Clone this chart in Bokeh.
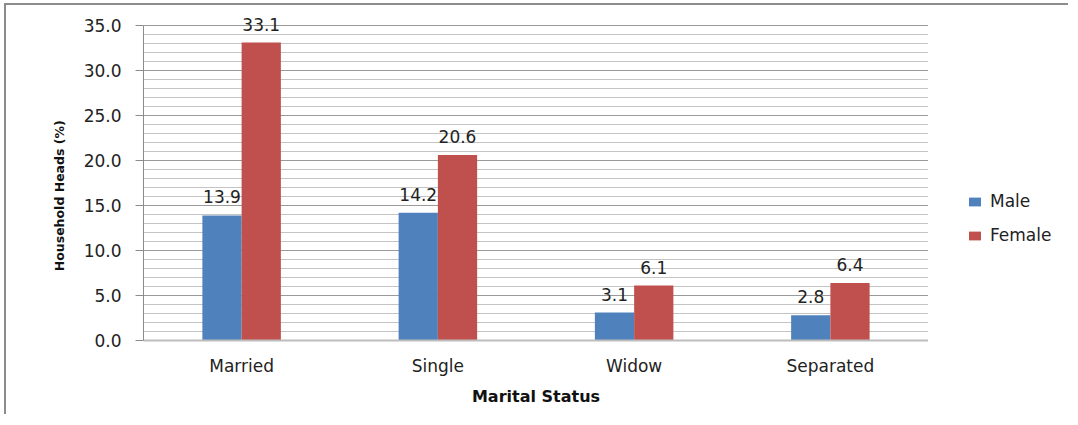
from bokeh.plotting import figure
from bokeh.layouts import row
from bokeh.models import (ColumnDataSource, FactorRange, LabelSet, Legend, LegendItem,
                          SingleIntervalTicker, PrintfTickFormatter, Range1d)
from bokeh.core.properties import value
from bokeh.transform import dodge
from bokeh.embed import file_html
from bokeh.resources import INLINE

categories = ["Married", "Single", "Widow", "Separated"]
male = [13.9, 14.2, 3.1, 2.8]
female = [33.1, 20.6, 6.1, 6.4]
series = ["Male", "Female"]
colors = ["#4F81BD", "#C0504D"]

src = ColumnDataSource(dict(
    cat=categories, male=male, female=female,
    male_lbl=["%.1f" % v for v in male],
    female_lbl=["%.1f" % v for v in female],
))

FONT = "DejaVu Sans"

p = figure(x_range=FactorRange(*categories, range_padding=0.0), y_range=Range1d(0, 37),
           width=922, height=409, output_backend="svg", toolbar_location=None,
           min_border_left=137, min_border_right=0, min_border_top=2, min_border_bottom=74)
p.outline_line_color = None
p.background_fill_color = "white"
p.border_fill_color = "white"

bw = 0.2
p.vbar(x=dodge("cat", -bw / 2, range=p.x_range), top="male", width=bw, source=src,
       fill_color=colors[0], line_color=None)
p.vbar(x=dodge("cat", bw / 2, range=p.x_range), top="female", width=bw, source=src,
       fill_color=colors[1], line_color=None)

for col, off in (("male", -bw / 2), ("female", bw / 2)):
    p.add_layout(LabelSet(x=dodge("cat", off, range=p.x_range), y=col, text=col + "_lbl",
                          source=src, text_align="center", text_baseline="bottom",
                          y_offset=12, text_font=value(FONT), text_font_size="17px",
                          text_color="#222222"))

# axes
p.yaxis.ticker = SingleIntervalTicker(interval=5, num_minor_ticks=5)
p.yaxis.bounds = (0, 35)
p.yaxis.formatter = PrintfTickFormatter(format="%.1f")
p.yaxis.axis_label = "Household Heads (%)" + "\u00a0" * 10
p.yaxis.axis_label_text_font = FONT
p.yaxis.axis_label_text_font_style = "bold"
p.yaxis.axis_label_text_font_size = "12.5px"
p.yaxis.axis_label_text_color = "#111111"
p.yaxis.major_label_text_font = FONT
p.yaxis.major_label_text_font_size = "17px"
p.yaxis.major_label_text_color = "#222222"
p.yaxis.axis_line_color = "#8c8c8c"
p.yaxis.major_tick_line_color = "#8c8c8c"
p.yaxis.major_tick_out = 8
p.yaxis.major_tick_in = 0
p.yaxis.minor_tick_line_color = None
p.yaxis.major_label_standoff = 14
p.yaxis.axis_label_standoff = 14

p.xaxis.axis_label = "Marital Status"
p.xaxis.axis_label_text_font = FONT
p.xaxis.axis_label_text_font_style = "bold"
p.xaxis.axis_label_text_font_size = "16px"
p.xaxis.axis_label_text_color = "#111111"
p.xaxis.major_label_text_font = FONT
p.xaxis.major_label_text_font_size = "17px"
p.xaxis.major_label_text_color = "#222222"
p.xaxis.axis_line_color = "#bdbdbd"
p.xaxis.axis_line_width = 2
p.xaxis.major_tick_line_color = None
p.xaxis.minor_tick_line_color = None
p.xaxis.major_label_standoff = 9
p.xaxis.axis_label_standoff = 8

p.xgrid.grid_line_color = None
p.ygrid.bounds = (0, 35)
p.ygrid.grid_line_color = "#9a9a9a"
p.ygrid.minor_grid_line_color = "#c4c4c4"

# legend panel (separate small figure holding only the legend swatches)
lf = figure(width=140, height=409, output_backend="svg", toolbar_location=None,
            x_axis_type=None, y_axis_type=None, x_range=Range1d(0, 1), y_range=Range1d(0, 1),
            min_border=0)
lf.outline_line_color = None
lf.xgrid.grid_line_color = None
lf.ygrid.grid_line_color = None
# swatch renderers positioned outside the visible range: only their legend glyphs show
lr_m = lf.vbar(x=[5], top=[0], width=0.1, fill_color=colors[0], line_color=None)
lr_f = lf.vbar(x=[5], top=[0], width=0.1, fill_color=colors[1], line_color=None)
legend = Legend(items=[LegendItem(label=series[0], renderers=[lr_m]),
                       LegendItem(label=series[1], renderers=[lr_f])],
                location=(39, 95), label_text_font=FONT, label_text_font_size="17px",
                label_text_color="#222222", glyph_width=15, glyph_height=11,
                spacing=14, border_line_color=None, background_fill_alpha=0,
                label_standoff=8, margin=0, padding=0)
lf.add_layout(legend, "center")

layout = row(p, lf, spacing=0)
layout.styles = {"border-left": "2px solid #8c8c8c", "border-top": "2px solid #8c8c8c",
                 "margin-left": "4px", "margin-top": "3px"}

open("out.html", "w").write(file_html(layout, INLINE))
